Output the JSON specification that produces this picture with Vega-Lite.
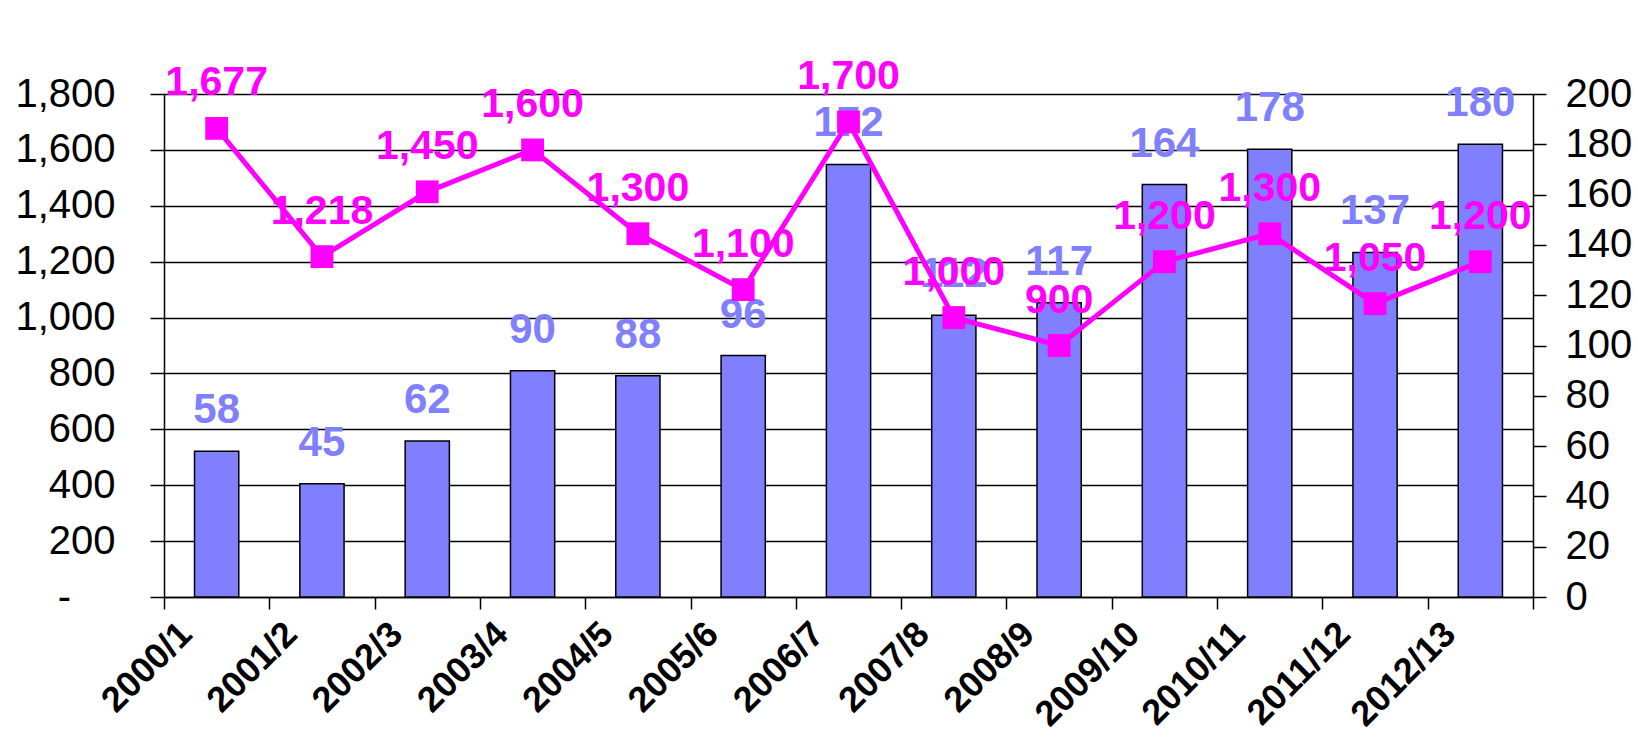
{
  "$schema": "https://vega.github.io/schema/vega-lite/v6.json",
  "autosize": "none",
  "width": 1369,
  "height": 503,
  "padding": {"left": 164, "top": 94, "right": 105, "bottom": 140},
  "background": "white",
  "config": {
    "view": {"stroke": null},
    "font": "Liberation Sans"
  },
  "data": {
    "values": [
      {"year": "2000/1", "count": 58, "amount": 1677},
      {"year": "2001/2", "count": 45, "amount": 1218},
      {"year": "2002/3", "count": 62, "amount": 1450},
      {"year": "2003/4", "count": 90, "amount": 1600},
      {"year": "2004/5", "count": 88, "amount": 1300},
      {"year": "2005/6", "count": 96, "amount": 1100},
      {"year": "2006/7", "count": 172, "amount": 1700},
      {"year": "2007/8", "count": 112, "amount": 1000},
      {"year": "2008/9", "count": 117, "amount": 900},
      {"year": "2009/10", "count": 164, "amount": 1200},
      {"year": "2010/11", "count": 178, "amount": 1300},
      {"year": "2011/12", "count": 137, "amount": 1050},
      {"year": "2012/13", "count": 180, "amount": 1200}
    ]
  },
  "encoding": {
    "x": {
      "field": "year",
      "type": "nominal",
      "sort": null,
      "scale": {"paddingInner": 0, "paddingOuter": 0},
      "axis": {
        "title": null,
        "grid": false,
        "domainColor": "black",
        "domainWidth": 1.5,
        "tickColor": "black",
        "tickWidth": 1.5,
        "tickSize": 12,
        "tickBand": "extent",
        "labelAngle": -45,
        "labelAlign": "right",
        "labelBaseline": "top",
        "labelOffset": -43,
        "labelPadding": 7,
        "labelFont": "Liberation Sans",
        "labelFontSize": 36,
        "labelFontWeight": "bold",
        "labelColor": "black"
      }
    }
  },
  "layer": [
    {
      "encoding": {
        "y": {
          "field": "count",
          "type": "quantitative",
          "scale": {"domain": [0, 200], "nice": false, "zero": true},
          "axis": {
            "orient": "right",
            "title": null,
            "values": [0, 20, 40, 60, 80, 100, 120, 140, 160, 180, 200],
            "grid": false,
            "domainColor": "black",
            "domainWidth": 1.5,
            "tickColor": "black",
            "tickWidth": 1.5,
            "tickSize": 13,
            "labelPadding": 19,
            "labelFont": "Liberation Sans",
            "labelFontSize": 40,
            "labelColor": "black"
          }
        }
      },
      "layer": [
        {
          "mark": {"type": "bar", "color": "#8080FF", "stroke": "black", "strokeWidth": 1.5, "width": {"band": 0.42}}
        },
        {
          "mark": {"type": "text", "color": "#8080FF", "font": "Liberation Sans", "fontSize": 42, "fontWeight": "bold", "baseline": "middle", "dy": -41},
          "encoding": {"text": {"field": "count", "type": "quantitative"}}
        }
      ]
    },
    {
      "encoding": {
        "y": {
          "field": "amount",
          "type": "quantitative",
          "scale": {"domain": [0, 1800], "nice": false, "zero": true},
          "axis": {
            "orient": "left",
            "title": null,
            "values": [0, 200, 400, 600, 800, 1000, 1200, 1400, 1600, 1800],
            "labelExpr": "datum.value == 0 ? '-\u00a0\u00a0\u00a0\u00a0\u200b' : format(datum.value, ',')",
            "grid": true,
            "gridColor": "black",
            "gridWidth": 1.5,
            "gridOpacity": 1,
            "domainColor": "black",
            "domainWidth": 1.5,
            "tickColor": "black",
            "tickWidth": 1.5,
            "tickSize": 14,
            "labelPadding": 35,
            "labelFont": "Liberation Sans",
            "labelFontSize": 40,
            "labelColor": "black"
          }
        }
      },
      "layer": [
        {
          "mark": {"type": "line", "color": "#FF00FF", "strokeWidth": 5}
        },
        {
          "mark": {"type": "point", "shape": "square", "filled": true, "color": "#FF00FF", "size": 520, "opacity": 1}
        },
        {
          "mark": {"type": "text", "color": "#FF00FF", "font": "Liberation Sans", "fontSize": 41, "fontWeight": "bold", "baseline": "middle", "dy": -45},
          "encoding": {"text": {"field": "amount", "type": "quantitative", "format": ","}}
        }
      ]
    }
  ],
  "resolve": {"scale": {"y": "independent"}, "axis": {"y": "independent"}}
}
